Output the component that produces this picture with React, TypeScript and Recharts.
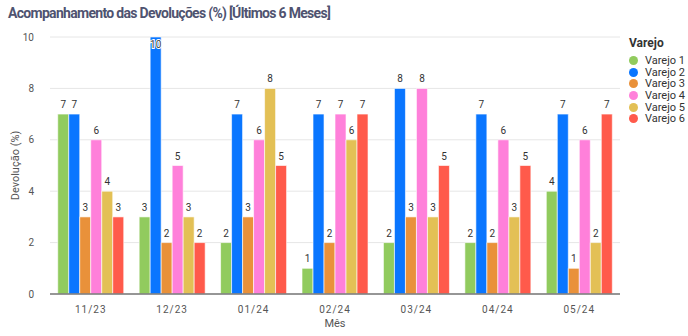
import React from 'react';
import { BarChart, Bar, XAxis, YAxis, CartesianGrid, Legend, LabelList } from 'recharts';

const months = ['11/23', '12/23', '01/24', '02/24', '03/24', '04/24', '05/24'];
const seriesNames = ['Varejo 1', 'Varejo 2', 'Varejo 3', 'Varejo 4', 'Varejo 5', 'Varejo 6'];
const varejo1 = [7, 3, 2, 1, 2, 2, 4];
const varejo2 = [7, 10, 7, 7, 8, 7, 7];
const varejo3 = [3, 2, 3, 2, 3, 2, 1];
const varejo4 = [6, 5, 6, 7, 8, 6, 6];
const varejo5 = [4, 3, 8, 6, 3, 3, 2];
const varejo6 = [3, 2, 5, 7, 5, 5, 7];
const yTicks = [0, 2, 4, 6, 8, 10];
const colors = ['#91CB5E', '#0A76FF', '#E9913A', '#FF80DA', '#E3C055', '#FF5A4B'];

const allSeries = [varejo1, varejo2, varejo3, varejo4, varejo5, varejo6];
const data = months.map((m, i) => {
  const row: Record<string, string | number> = { month: m };
  seriesNames.forEach((s, j) => {
    row[s] = allSeries[j][i];
  });
  return row;
});

const renderLabel = (props: any) => {
  const { x, y, width, value } = props;
  const inside = value >= 10;
  return (
    <text
      x={x + width / 2}
      y={inside ? y + 11 : y - 6}
      textAnchor="middle"
      fontSize={10}
      fill={inside ? '#444' : '#333'}
      fontFamily="Roboto, sans-serif"
      stroke={inside ? '#fff' : 'none'}
      strokeWidth={inside ? 2 : 0}
      paintOrder="stroke"
    >
      {value}
    </text>
  );
};

const renderLegend = (props: any) => {
  const { payload } = props;
  return (
    <div style={{ fontFamily: 'Roboto, sans-serif', color: '#333' }}>
      <div style={{ fontWeight: 'bold', fontSize: 12, marginBottom: 5, lineHeight: '14px' }}>Varejo</div>
      {payload.map((p: any) => (
        <div
          key={p.value}
          style={{ display: 'flex', alignItems: 'center', height: 11.6, fontSize: 11, lineHeight: '11px', overflow: 'visible' }}
        >
          <span
            style={{
              display: 'inline-block',
              width: 9,
              height: 9,
              borderRadius: '50%',
              background: p.color,
              marginRight: 7,
              flexShrink: 0,
            }}
          />
          <span style={{ whiteSpace: 'nowrap' }}>{p.value}</span>
        </div>
      ))}
    </div>
  );
};

export default function App() {
  return (
    <div style={{ position: 'absolute', left: 0, top: 0, width: 688, height: 336, background: '#fff', fontFamily: 'Roboto, sans-serif' }}>
      <div
        style={{
          position: 'absolute',
          left: 8,
          top: 5,
          fontSize: 14,
          fontWeight: 'bold',
          letterSpacing: -0.7,
          color: '#4F5370',
          fontFamily: 'Roboto, sans-serif',
          whiteSpace: 'nowrap',
        }}
      >
        Acompanhamento das Devoluções (%) [Últimos 6 Meses]
      </div>
      <BarChart
        width={688}
        height={336}
        data={data}
        margin={{ top: 37, right: 68, bottom: 0, left: 0 }}
        barCategoryGap="9.5%"
        barGap={0}
      >
        <CartesianGrid vertical={false} stroke="#e6e6e6" />
        <XAxis
          dataKey="month"
          height={42}
          tickLine={false}
          axisLine={{ stroke: '#777', strokeWidth: 1.5 }}
          tick={{ fontSize: 10, fill: '#555', letterSpacing: 1 }}
          tickMargin={6}
          label={{ value: 'Mês', position: 'insideBottom', offset: 9, style: { fontSize: 11, fill: '#555' } }}
        />
        <YAxis
          width={50}
          domain={[0, 10]}
          ticks={yTicks}
          tickLine={false}
          axisLine={false}
          tick={{ fontSize: 10, fill: '#555' }}
          tickMargin={10}
          label={{
            value: 'Devolução (%)',
            angle: -90,
            position: 'insideLeft',
            offset: 15,
            style: { fontSize: 11, fill: '#555', textAnchor: 'middle' },
          }}
        />
        <Legend
          layout="vertical"
          align="center"
          verticalAlign="middle"
          content={renderLegend}
          wrapperStyle={{ position: 'absolute', left: 629, top: 36, width: 59 }}
        />
        {seriesNames.map((s, j) => (
          <Bar key={s} dataKey={s} fill={colors[j]} stroke="#fff" strokeOpacity={0.6} strokeWidth={1} isAnimationActive={false}>
            <LabelList dataKey={s} content={renderLabel} />
          </Bar>
        ))}
      </BarChart>
    </div>
  );
}
